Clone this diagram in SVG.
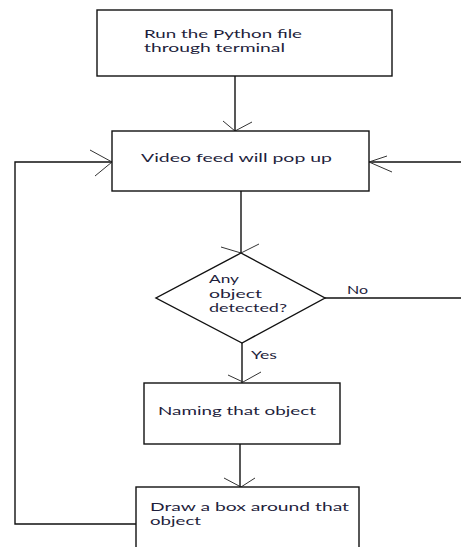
<svg xmlns="http://www.w3.org/2000/svg" width="461" height="547" viewBox="0 0 461 547">
<style>
.box{fill:#fff;stroke:#111;stroke-width:1.4}
.ln{fill:none;stroke:#111;stroke-width:1.4}
.ah{fill:none;stroke:#333;stroke-width:1}
.t{font-family:Lato,"Open Sans","Liberation Sans",sans-serif;font-size:11.5px;fill:#1e1e3c}
</style>
<rect width="461" height="547" fill="#fff"/>
<g id="connectors">
<path class="ln" d="M235,76 V131"/>
<path class="ah" d="M223,121 L235,131 L252,122"/>
<path class="ln" d="M241,191 V253"/>
<path class="ah" d="M221,247 L241,253 L259,244"/>
<path class="ln" d="M325,298 H461"/>
<path class="ln" d="M461,162 H369"/>
<path class="ah" d="M387,156 L369,162 L392,172"/>
<path class="ln" d="M242,343 V383"/>
<path class="ah" d="M228,375 L243,382 L261,372"/>
<path class="ln" d="M240,444 V487"/>
<path class="ah" d="M224,478 L241,487 L255,478"/>
<path class="ln" d="M138,524 H15 V162 H112"/>
<path class="ah" d="M90,150 L112,162 L95,176"/>
<text class="t" x="347" y="294" textLength="21" lengthAdjust="spacingAndGlyphs">No</text>
<text class="t" x="251" y="359" textLength="26" lengthAdjust="spacingAndGlyphs">Yes</text>
</g>
<g id="node-run">
<rect class="box" x="97" y="10" width="295" height="66"/>
<text class="t" x="144" y="38" textLength="158" lengthAdjust="spacingAndGlyphs">Run the Python file</text>
<text class="t" x="144" y="52" textLength="141" lengthAdjust="spacingAndGlyphs">through terminal</text>
</g>
<g id="node-video">
<rect class="box" x="112" y="131" width="257" height="60"/>
<text class="t" x="141" y="162" textLength="191" lengthAdjust="spacingAndGlyphs">Video feed will pop up</text>
</g>
<g id="node-decision">
<polygon class="box" points="241,253 325,298 242,343 156,298"/>
<text class="t" x="209" y="283" textLength="30" lengthAdjust="spacingAndGlyphs">Any</text>
<text class="t" x="209" y="298" textLength="53" lengthAdjust="spacingAndGlyphs">object</text>
<text class="t" x="209" y="312" textLength="78" lengthAdjust="spacingAndGlyphs">detected?</text>
</g>
<g id="node-naming">
<rect class="box" x="144" y="383" width="196" height="61"/>
<text class="t" x="158" y="415" textLength="158" lengthAdjust="spacingAndGlyphs">Naming that object</text>
</g>
<g id="node-draw">
<rect class="box" x="136" y="487" width="223" height="80"/>
<text class="t" x="150" y="511" textLength="199" lengthAdjust="spacingAndGlyphs">Draw a box around that</text>
<text class="t" x="150" y="525" textLength="51" lengthAdjust="spacingAndGlyphs">object</text>
</g>
</svg>
